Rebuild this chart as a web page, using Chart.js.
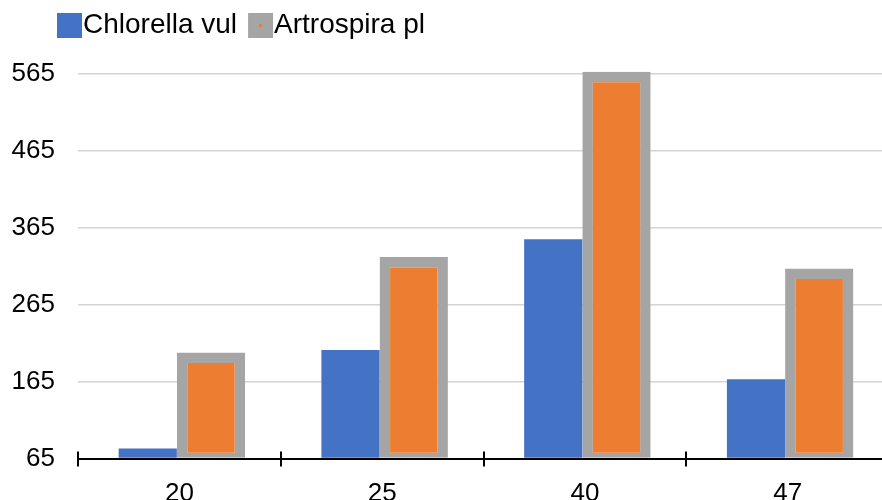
<!DOCTYPE html>
<html>
<head>
<meta charset="utf-8">
<script src="https://cdn.jsdelivr.net/npm/chart.js@4"></script>
<style>
  html, body { margin: 0; padding: 0; background: #fff; overflow: hidden; }
  #wrap { width: 892px; height: 512px; }
</style>
</head>
<body>
<div id="wrap"><canvas id="chart" width="892" height="512"></canvas></div>
<script>
const categories = ['20', '25', '40', '47'];
const chlorella = [78, 206, 350, 168];
const artrospira = [203, 327, 568, 312];
const seriesNames = ['Chlorella vul', 'Artrospira pl'];
const yTicks = [65, 165, 265, 365, 465, 565];

const FONT = '"Liberation Sans", Arial, sans-serif';

// legend drawn by hand so the text sits right against the swatch, like Excel
const excelLegend = {
  id: 'excelLegend',
  afterDraw(chart) {
    const ctx = chart.ctx;
    ctx.save();
    ctx.font = '28px ' + FONT;
    ctx.textBaseline = 'middle';
    let x = 57;
    const y = 13, box = 25;
    chart.data.datasets.forEach((ds, i) => {
      ctx.fillStyle = i === 0 ? ds.backgroundColor : ds.borderColor;
      ctx.fillRect(x, y, box, box);
      if (i === 1) {
        ctx.fillStyle = ds.backgroundColor;
        ctx.fillRect(x + box / 2 - 1.5, y + box / 2 - 1.5, 3, 3);
      }
      ctx.fillStyle = '#000';
      ctx.fillText(ds.label, x + box + 1, y + box / 2);
      x += box + 1 + ctx.measureText(ds.label).width + 11;
    });
    ctx.restore();
  }
};

// category tick marks crossing the x axis line
const crossTicks = {
  id: 'crossTicks',
  afterDatasetsDraw(chart) {
    const xs = chart.scales.x;
    const ctx = chart.ctx;
    const base = xs.top;
    ctx.save();
    ctx.strokeStyle = '#000';
    ctx.lineWidth = 2;
    for (let i = 0; i <= categories.length; i++) {
      const px = Math.round(xs.getPixelForValue(i - 0.5));
      ctx.beginPath();
      ctx.moveTo(px, base - 7);
      ctx.lineTo(px, base + 8);
      ctx.stroke();
    }
    ctx.restore();
  }
};

new Chart(document.getElementById('chart'), {
  type: 'bar',
  data: {
    labels: categories,
    datasets: [
      {
        label: seriesNames[0],
        data: chlorella,
        base: yTicks[0],
        backgroundColor: '#4472C4',
        borderWidth: 0,
        categoryPercentage: 0.624,
        barPercentage: 0.92
      },
      {
        label: seriesNames[1],
        data: artrospira,
        base: yTicks[0],
        backgroundColor: '#ED7D31',
        borderColor: '#A5A5A5',
        borderWidth: { top: 10.5, left: 10.5, right: 10.5, bottom: 5 },
        borderSkipped: false,
        categoryPercentage: 0.624,
        barPercentage: 1.08,
        clip: false
      }
    ]
  },
  options: {
    responsive: false,
    animation: false,
    layout: { padding: { top: 74, right: 3, left: 0, bottom: 0 } },
    plugins: {
      legend: { display: false },
      tooltip: { enabled: false }
    },
    scales: {
      x: {
        offset: true,
        afterFit(scale) { scale.height = 53.5; },
        grid: { display: false, drawTicks: false },
        border: { display: true, color: '#000', width: 2 },
        ticks: {
          color: '#000',
          padding: 20,
          font: { family: FONT, size: 26 }
        }
      },
      y: {
        min: yTicks[0],
        max: yTicks[yTicks.length - 1],
        beginAtZero: false,
        afterFit(scale) { scale.width = 78; },
        afterBuildTicks(scale) { scale.ticks = yTicks.map(v => ({ value: v })); },
        grid: { color: '#d4d4d4', lineWidth: 1.5, drawTicks: false },
        border: { display: false },
        ticks: {
          color: '#000',
          padding: 23,
          font: { family: FONT, size: 26 }
        }
      }
    }
  },
  plugins: [excelLegend, crossTicks]
});
</script>
</body>
</html>
